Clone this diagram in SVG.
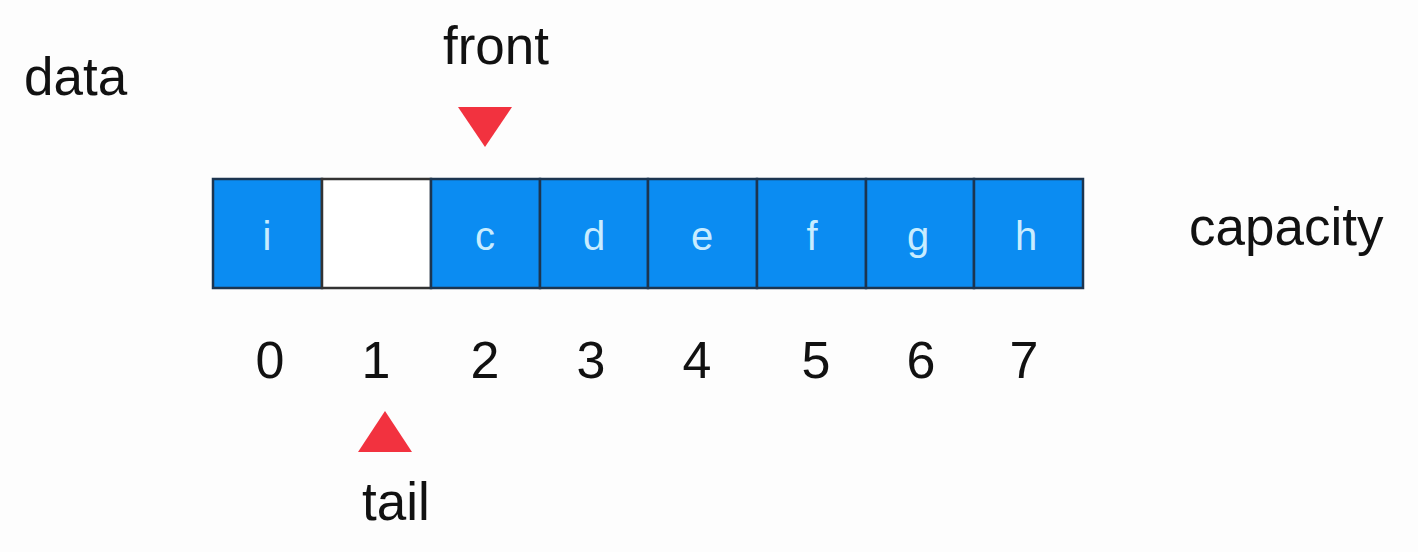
<svg xmlns="http://www.w3.org/2000/svg" width="1418" height="552" viewBox="0 0 1418 552">
<style>
.lbl{font-family:"Liberation Sans",Arial,sans-serif;font-size:53px;fill:#111}
.num{font-family:"Liberation Sans",Arial,sans-serif;font-size:52px;fill:#111;text-anchor:middle}
.cell{fill:#0B8CF2;stroke:#1c3550;stroke-width:2.5}
.empty{fill:#ffffff;stroke:#333;stroke-width:2.5}
.ct{font-family:"Liberation Sans",Arial,sans-serif;font-size:40px;fill:#c8ecff;text-anchor:middle}
.ptr{fill:#F2323F}
</style>
<rect width="1418" height="552" fill="#fdfdfd"/>
<g id="label-data"><text class="lbl" x="24" y="95">data</text></g>
<g id="label-capacity"><text class="lbl" x="1189" y="245">capacity</text></g>
<g id="cells">
<g id="cell0"><rect class="cell" x="213" y="179" width="109" height="109"/><text class="ct" x="267" y="250">i</text></g>
<g id="cell1"><rect class="empty" x="322" y="179" width="109" height="109"/></g>
<g id="cell2"><rect class="cell" x="431" y="179" width="109" height="109"/><text class="ct" x="485" y="250">c</text></g>
<g id="cell3"><rect class="cell" x="540" y="179" width="108" height="109"/><text class="ct" x="594" y="250">d</text></g>
<g id="cell4"><rect class="cell" x="648" y="179" width="109" height="109"/><text class="ct" x="702" y="250">e</text></g>
<g id="cell5"><rect class="cell" x="757" y="179" width="109" height="109"/><text class="ct" x="812" y="250">f</text></g>
<g id="cell6"><rect class="cell" x="866" y="179" width="108" height="109"/><text class="ct" x="918" y="250">g</text></g>
<g id="cell7"><rect class="cell" x="974" y="179" width="109" height="109"/><text class="ct" x="1026" y="250">h</text></g>
</g>
<g id="indices">
<text class="num" x="270" y="378">0</text>
<text class="num" x="376" y="378">1</text>
<text class="num" x="485" y="378">2</text>
<text class="num" x="591" y="378">3</text>
<text class="num" x="697" y="378">4</text>
<text class="num" x="816" y="378">5</text>
<text class="num" x="921" y="378">6</text>
<text class="num" x="1024" y="378">7</text>
</g>
<g id="front"><text class="lbl" x="443" y="64">front</text><polygon class="ptr" points="458,107 512,107 485,147"/></g>
<g id="tail"><polygon class="ptr" points="385,411 412,452 358,452"/><text class="lbl" x="362" y="520">tail</text></g>
<g id="connectors"></g>
</svg>
